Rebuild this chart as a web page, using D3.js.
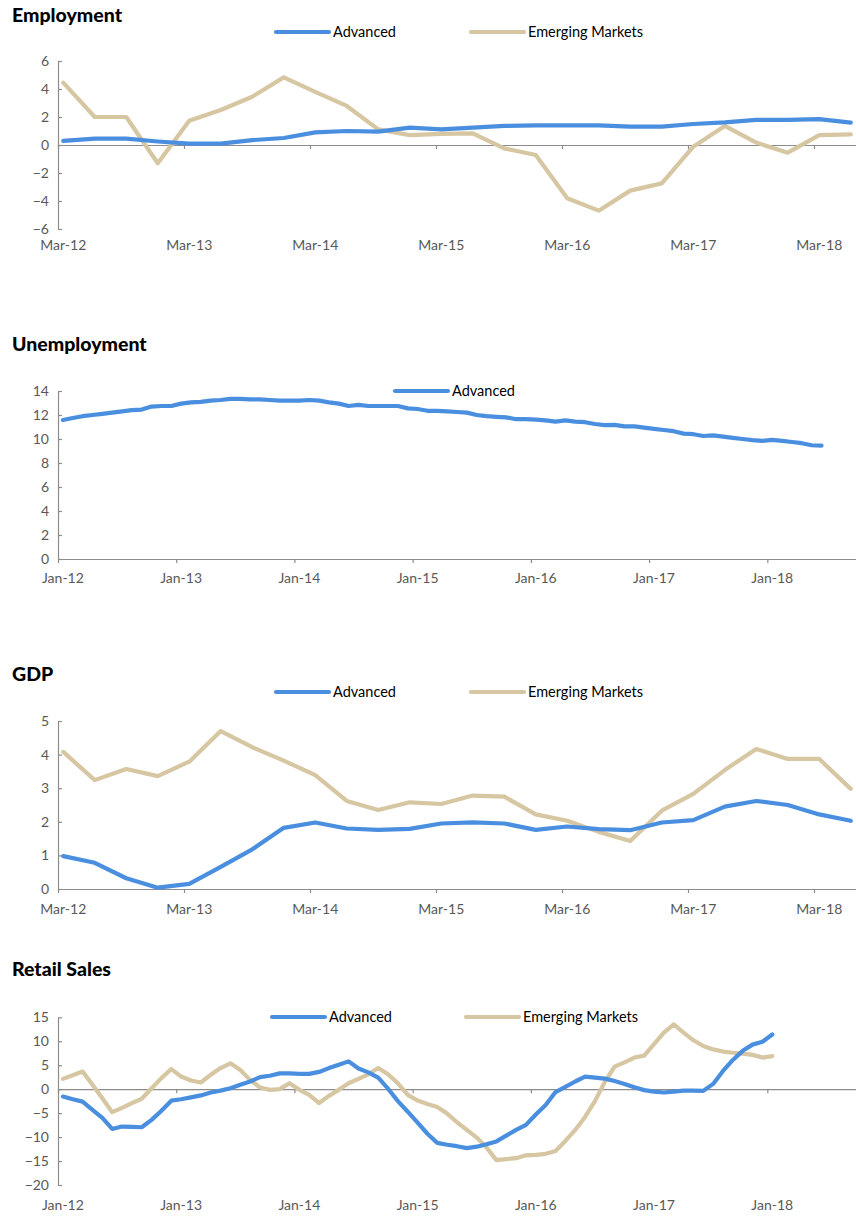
<!DOCTYPE html>
<html>
<head>
<meta charset="utf-8">
<script src="https://cdn.jsdelivr.net/npm/d3@7"></script>
<style>
  html, body { margin: 0; padding: 0; background: #fff; }
  svg { display: block; }
  text { font-family: Lato, "Open Sans", sans-serif; }
</style>
</head>
<body>
<svg id="chart" width="856" height="1216"></svg>
<script>
// ---------- DATA ----------
const seriesNames = ["Advanced", "Emerging Markets"];

// Quarterly labels (Employment, GDP): Mar-12 ... Jun-18
const quarterLabels = ["Mar-12","Jun-12","Sep-12","Dec-12","Mar-13","Jun-13","Sep-13","Dec-13",
  "Mar-14","Jun-14","Sep-14","Dec-14","Mar-15","Jun-15","Sep-15","Dec-15",
  "Mar-16","Jun-16","Sep-16","Dec-16","Mar-17","Jun-17","Sep-17","Dec-17","Mar-18","Jun-18"];
const quarterTickLabels = ["Mar-12","Mar-13","Mar-14","Mar-15","Mar-16","Mar-17","Mar-18"];
const monthTickLabels = ["Jan-12","Jan-13","Jan-14","Jan-15","Jan-16","Jan-17","Jan-18"];

const employmentAdvanced = [0.3,0.45,0.45,0.25,0.1,0.1,0.35,0.5,0.9,1.0,0.95,1.24,1.12,
  1.24,1.36,1.4,1.4,1.4,1.31,1.31,1.5,1.62,1.79,1.79,1.85,1.6];
const employmentEmerging = [4.45,2.0,2.0,-1.3,1.74,2.5,3.45,4.83,3.8,2.79,1.12,0.71,0.8,
  0.83,-0.24,-0.71,-3.8,-4.69,-3.26,-2.74,-0.12,1.36,0.17,-0.55,0.71,0.76];

const unemploymentAdvanced = [11.58,11.75,11.9,12.0,12.1,12.2,12.3,12.4,12.45,12.7,12.75,12.75,
  12.95,13.05,13.1,13.2,13.25,13.35,13.35,13.3,13.3,13.25,13.2,13.2,
  13.2,13.25,13.2,13.05,12.95,12.75,12.85,12.75,12.75,12.75,12.75,12.55,
  12.5,12.35,12.35,12.3,12.25,12.2,12.0,11.9,11.85,11.8,11.65,11.65,
  11.62,11.55,11.45,11.55,11.45,11.4,11.25,11.15,11.18,11.05,11.05,10.95,
  10.85,10.75,10.65,10.45,10.4,10.25,10.3,10.2,10.1,10.0,9.9,9.85,
  9.92,9.85,9.75,9.65,9.48,9.44];

const gdpAdvanced = [0.98,0.78,0.32,0.04,0.15,0.66,1.18,1.82,1.98,1.8,1.76,1.79,1.95,
  1.98,1.95,1.76,1.86,1.78,1.75,1.98,2.05,2.45,2.62,2.5,2.22,2.03];
const gdpEmerging = [4.08,3.24,3.57,3.36,3.79,4.7,4.22,3.82,3.39,2.62,2.35,2.58,2.53,
  2.78,2.75,2.22,2.03,1.7,1.43,2.33,2.83,3.54,4.17,3.87,3.87,2.98];

const retailAdvanced = [-1.54,-2.1,-2.6,-4.3,-6.0,-8.3,-7.8,-7.85,-7.95,-6.4,-4.5,-2.4,
  -2.1,-1.7,-1.3,-0.7,-0.3,0.2,0.9,1.6,2.5,2.8,3.3,3.3,
  3.2,3.2,3.6,4.4,5.1,5.8,4.3,3.5,2.4,0.1,-2.5,-4.7,
  -7.0,-9.3,-11.2,-11.6,-11.9,-12.3,-12.0,-11.5,-10.9,-9.7,-8.5,-7.45,
  -5.3,-3.3,-0.6,0.5,1.6,2.6,2.4,2.2,1.7,1.1,0.4,-0.2,
  -0.5,-0.7,-0.5,-0.3,-0.3,-0.35,1.1,3.8,6.1,8.0,9.3,9.9,11.4];
const retailEmerging = [2.15,2.9,3.67,0.9,-1.9,-4.8,-3.9,-2.9,-2.0,0.2,2.3,4.2,
  2.63,1.8,1.39,3.0,4.4,5.4,4.0,1.94,0.35,-0.14,0.0,1.24,
  -0.14,-1.2,-2.9,-1.4,-0.14,1.24,2.15,3.1,4.4,3.1,1.24,-1.2,
  -2.37,-3.1,-3.7,-5.1,-6.9,-8.5,-10.1,-12.2,-14.8,-14.6,-14.4,-13.8,
  -13.7,-13.5,-12.9,-10.8,-8.5,-5.8,-2.5,1.5,4.7,5.6,6.6,7.0,
  9.4,11.8,13.5,11.8,10.2,9.0,8.3,7.85,7.6,7.4,7.16,6.6,6.9];

const employmentTicks = [-6,-4,-2,0,2,4,6];
const unemploymentTicks = [0,2,4,6,8,10,12,14];
const gdpTicks = [0,1,2,3,4,5];
const retailTicks = [-20,-15,-10,-5,0,5,10,15];

// ---------- STYLE ----------
const colors = { "Advanced": "#4a8fdf", "Emerging Markets": "#d6c6a2" };
const axisColor = "#8c8c8c";
const tickTextColor = "#595959";

const svg = d3.select("#chart");

function panel(cfg) {
  const g = svg.append("g");
  // Title
  g.append("text").attr("x", 12).attr("y", cfg.titleY)
    .attr("font-size", 19.5).attr("font-weight", 900).attr("fill", "#000")
    .text(cfg.title);

  const x = d3.scaleLinear().domain([0, cfg.nMonths]).range([58, 856]);
  const y = d3.scaleLinear().domain([cfg.yTicks[0], cfg.yTicks[cfg.yTicks.length - 1]])
    .range([cfg.yBottom, cfg.yTop]);

  // Y axis
  const yAxis = d3.axisLeft(y).tickValues(cfg.yTicks).tickFormat(d3.format("d"))
    .tickSizeInner(-4).tickSizeOuter(0).tickPadding(9);
  const ya = g.append("g").attr("transform", "translate(58,0)").call(yAxis);
  ya.select(".domain").attr("stroke", axisColor).attr("stroke-width", 1.2);
  ya.selectAll(".tick line").attr("stroke", axisColor).attr("stroke-width", 1.2);
  ya.selectAll(".tick text").attr("fill", tickTextColor).attr("font-size", 14)
    .attr("font-family", "Lato, sans-serif");

  // X axis at zero
  const xTickVals = cfg.xTickLabels.map((d, i) => i * 12);
  const xAxis = d3.axisBottom(x).tickValues(xTickVals).tickSize(4).tickSizeOuter(0).tickFormat("");
  const xa = g.append("g").attr("transform", `translate(0,${y(0)})`).call(xAxis);
  xa.select(".domain").attr("stroke", axisColor).attr("stroke-width", 1.2);
  xa.selectAll(".tick line").attr("stroke", axisColor).attr("stroke-width", 1.2);

  // X tick labels at bottom
  g.selectAll(".xl").data(cfg.xTickLabels).enter().append("text")
    .attr("x", (d, i) => x(i * 12 + 0.5)).attr("y", cfg.xLabelY)
    .attr("text-anchor", "middle").attr("font-size", 14).attr("fill", tickTextColor)
    .text(d => d);

  // Lines
  const line = d3.line()
    .x((d, i) => x(i * cfg.step + 0.5))
    .y(d => y(d));
  cfg.series.forEach(s => {
    g.append("path").datum(s.values)
      .attr("fill", "none").attr("stroke", colors[s.name])
      .attr("stroke-width", 4.2).attr("stroke-linejoin", "round").attr("stroke-linecap", "round")
      .attr("d", line);
  });

  // Legend
  cfg.legend.forEach(l => {
    g.append("line").attr("x1", l.x).attr("x2", l.x + 53).attr("y1", cfg.legendY).attr("y2", cfg.legendY)
      .attr("stroke", colors[l.name]).attr("stroke-width", 4.2).attr("stroke-linecap", "round");
    g.append("text").attr("x", l.x + 57).attr("y", cfg.legendY).attr("dy", "0.35em")
      .attr("font-size", 14.5).attr("fill", "#000").text(l.name);
  });
}

panel({
  title: "Employment", titleY: 22,
  nMonths: 76, step: 3,
  yTicks: employmentTicks, yTop: 61, yBottom: 229,
  xTickLabels: quarterTickLabels, xLabelY: 250,
  series: [{ name: "Emerging Markets", values: employmentEmerging }, { name: "Advanced", values: employmentAdvanced }],
  legendY: 32, legend: [{ name: "Advanced", x: 276 }, { name: "Emerging Markets", x: 471 }]
});

panel({
  title: "Unemployment", titleY: 351,
  nMonths: 81, step: 1,
  yTicks: unemploymentTicks, yTop: 391, yBottom: 559,
  xTickLabels: monthTickLabels, xLabelY: 583,
  series: [{ name: "Advanced", values: unemploymentAdvanced }],
  legendY: 391, legend: [{ name: "Advanced", x: 395 }]
});

panel({
  title: "GDP", titleY: 681,
  nMonths: 76, step: 3,
  yTicks: gdpTicks, yTop: 721, yBottom: 889,
  xTickLabels: quarterTickLabels, xLabelY: 914,
  series: [{ name: "Emerging Markets", values: gdpEmerging }, { name: "Advanced", values: gdpAdvanced }],
  legendY: 692, legend: [{ name: "Advanced", x: 276 }, { name: "Emerging Markets", x: 471 }]
});

panel({
  title: "Retail Sales", titleY: 976,
  nMonths: 81, step: 1,
  yTicks: retailTicks, yTop: 1017.3, yBottom: 1185,
  xTickLabels: monthTickLabels, xLabelY: 1210,
  series: [{ name: "Emerging Markets", values: retailEmerging }, { name: "Advanced", values: retailAdvanced }],
  legendY: 1017, legend: [{ name: "Advanced", x: 272 }, { name: "Emerging Markets", x: 466 }]
});
</script>
</body>
</html>
